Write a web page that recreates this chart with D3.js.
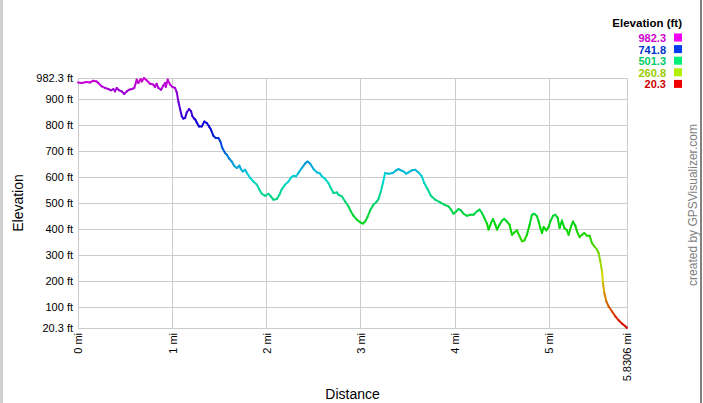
<!DOCTYPE html>
<html><head><meta charset="utf-8">
<script src="https://cdn.jsdelivr.net/npm/d3@7"></script>
<style>
body{margin:0;background:#fff;}
svg{display:block;font-family:"Liberation Sans",Arial,sans-serif;}
</style>
</head><body>
<svg id="chart" width="703" height="403"></svg>
<script>
// ---------- data ----------
const distanceMi = [
0,0.039,0.092,0.128,0.163,0.199,0.216,0.252,0.287,0.322,
0.351,0.375,0.393,0.411,0.436,0.464,0.492,0.518,0.542,0.571,
0.598,0.624,0.641,0.666,0.677,0.701,0.730,0.765,0.800,0.818,
0.836,0.853,0.882,0.906,0.925,0.932,0.953,0.978,1.002,1.031,
1.049,1.066,1.084,1.102,1.119,1.137,1.155,1.180,1.201,1.215,
1.236,1.247,1.261,1.286,1.315,1.342,1.368,1.392,1.413,1.438,
1.463,1.491,1.512,1.533,1.562,
1.580,1.608,1.633,1.658,1.687,1.714,1.729,1.750,1.775,1.799,
1.828,1.863,1.899,1.927,1.952,1.987,2.022,2.048,2.075,2.112,
2.139,2.165,2.200,2.235,2.260,2.288,2.317,2.341,2.377,2.412,
2.437,2.465,2.501,2.537,2.564,2.590,2.625,2.660,2.685,2.713,
2.749,2.766,2.802,2.837,2.873,2.898,2.926,2.962,2.997,3.026,
3.050,3.074,3.103,3.138,3.174,3.191,3.217,3.238,3.262,3.298,
3.344,3.379,3.404,3.429,3.457,3.486,3.510,3.546,3.581,3.616,
3.652,3.677,3.712,3.748,3.794,3.847,3.889,3.935,3.961,3.988,
4.017,4.041,4.067,4.095,4.131,4.166,4.201,4.237,4.265,4.290,
4.315,4.343,4.360,4.386,4.407,4.432,4.450,4.477,4.503,4.527,
4.556,4.583,4.609,4.633,4.662,4.690,4.715,4.740,4.768,4.796,
4.821,4.846,4.875,4.892,4.910,4.928,4.945,4.973,4.998,5.016,
5.045,5.069,5.094,5.115,5.140,5.165,5.193,5.210,5.236,5.257,
5.282,5.300,5.327,5.353,5.377,5.406,5.434,5.459,5.484,5.512,
5.529,5.547,5.565,5.576,5.590,5.611,5.636,5.672,5.707,5.742,
5.778,5.813,5.8306
];
const elevationFt = [
965,963,967,965,972,969,963,950,944,940,
935,940,931,944,935,931,921,931,937,940,
944,976,963,978,969,982.3,973,960,957,948,
960,944,937,953,963,948,976,957,948,944,
927,892,863,835,826,828,850,863,854,835,
825,822,811,796,796,815,809,796,783,760,
751,751,738,713,694,
687,671,661,645,636,645,632,623,629,614,
598,584,572,552,537,529,537,527,514,517,
533,555,572,584,598,606,604,617,636,653,
661,653,632,619,617,604,594,578,559,540,
542,533,527,507,488,469,452,437,427,422,
430,447,473,495,507,517,546,578,617,614,
617,627,632,627,623,614,619,627,629,619,
604,578,555,529,514,504,495,488,476,460,
469,478,473,460,452,456,456,469,476,463,
444,422,399,424,440,418,399,418,434,440,
430,418,379,388,396,373,354,357,379,418,
456,460,450,430,405,386,409,396,409,430,
452,456,444,405,434,405,396,379,411,430,
414,392,370,379,386,375,375,347,334,322,
309,277,238,193,155,123,103,84,65,50,
37,27,20.3
];
const yTickValues = [20.3,100,200,300,400,500,600,700,800,900,982.3];
const xTickValues = [0,1,2,3,4,5,5.8306];
const legendValues = [982.3,741.8,501.3,260.8,20.3];
const legendTitle = "Elevation (ft)";
const xTitle = "Distance";
const yTitle = "Elevation";
const credit = "created by GPSVisualizer.com";

// ---------- drawing ----------
const svg = d3.select("#chart");
const W = 703, H = 403;
const plot = {left:78, right:627, top:78, bottom:328};

const minE = d3.min(legendValues), maxE = d3.max(legendValues);
const x = d3.scaleLinear().domain([0, d3.max(xTickValues)]).range([plot.left, plot.right]);
const y = d3.scaleLinear().domain([minE, maxE]).range([plot.bottom, plot.top]);
const hue = d3.scaleLinear().domain([minE, maxE]).range([0, 300]);
const lineColor = v => d3.hsl(hue(v), 1, 0.42).formatHex();
const swatchColor = v => d3.hsl(hue(v), 1, 0.47).formatHex();
const textColor = v => d3.hsl(hue(v), 1, 0.40).formatHex();

svg.append("rect").attr("width", W).attr("height", H).attr("fill", "#fff");
// outer frame
svg.append("rect").attr("x",0).attr("y",0).attr("width",3).attr("height",H).attr("fill","#d0d0d0");
svg.append("rect").attr("x",700).attr("y",0).attr("width",2).attr("height",H).attr("fill","#808080");

const crisp = v => Math.round(v) + 0.5;
// grid
const grid = svg.append("g").attr("stroke", "#cccccc").attr("stroke-width", 1);
grid.selectAll(".gx").data(xTickValues).join("line")
  .attr("x1", d => crisp(x(d))).attr("x2", d => crisp(x(d)))
  .attr("y1", plot.top).attr("y2", plot.bottom);
grid.selectAll(".gy").data(yTickValues).join("line")
  .attr("x1", plot.left).attr("x2", plot.right)
  .attr("y1", d => crisp(y(d))).attr("y2", d => crisp(y(d)));

// axes
const yAxis = d3.axisLeft(y).tickValues(yTickValues).tickSize(0).tickPadding(5)
  .tickFormat(d => d + " ft");
const gy = svg.append("g").attr("transform", `translate(${plot.left},0)`).call(yAxis);
gy.select(".domain").remove();
gy.selectAll("text").attr("font-size", 11).attr("fill", "#000")
  .attr("font-family", '"Liberation Sans",Arial,sans-serif');

const xAxis = d3.axisBottom(x).tickValues(xTickValues).tickSize(0)
  .tickFormat(d => d + " mi");
const gx = svg.append("g").attr("transform", `translate(0,${plot.bottom})`).call(xAxis);
gx.select(".domain").remove();
gx.selectAll("text").attr("font-size", 11).attr("fill", "#000")
  .attr("font-family", '"Liberation Sans",Arial,sans-serif')
  .attr("transform", "rotate(-90)").attr("text-anchor", "end")
  .attr("x", -5).attr("y", 0).attr("dy", "0.35em");

// profile line, coloured by elevation
const pts = distanceMi.map((d, i) => ({d, e: elevationFt[i]}));
svg.append("g").attr("fill", "none").attr("stroke-width", 2).attr("stroke-linecap", "round")
  .selectAll("line").data(d3.pairs(pts)).join("line")
  .attr("x1", p => x(p[0].d)).attr("y1", p => y(p[0].e))
  .attr("x2", p => x(p[1].d)).attr("y2", p => y(p[1].e))
  .attr("stroke", p => lineColor((p[0].e + p[1].e) / 2));

// titles
svg.append("text").attr("x", (plot.left + plot.right) / 2).attr("y", 399)
  .attr("text-anchor", "middle").attr("font-size", 14).text(xTitle);
svg.append("text").attr("transform", `translate(23,${(plot.top + plot.bottom) / 2}) rotate(-90)`)
  .attr("text-anchor", "middle").attr("font-size", 14).text(yTitle);

// credit
svg.append("text").attr("transform", `translate(697,${(plot.top + plot.bottom) / 2 + 2}) rotate(-90)`)
  .attr("text-anchor", "middle").attr("font-size", 12).attr("fill", "#808080").text(credit);

// legend
const lg = svg.append("g");
lg.append("text").attr("x", 682).attr("y", 27).attr("text-anchor", "end")
  .attr("font-size", 11.5).attr("font-weight", "bold").text(legendTitle);
const rows = lg.selectAll(".row").data(legendValues).join("g")
  .attr("transform", (d, i) => `translate(0,${42 + i * 11.6})`);
rows.append("text").attr("x", 666).attr("y", 0).attr("text-anchor", "end")
  .attr("font-size", 11).attr("font-weight", "bold").attr("fill", d => textColor(d)).text(d => d);
rows.append("rect").attr("x", 674).attr("y", -8.5).attr("width", 8).attr("height", 8)
  .attr("fill", d => swatchColor(d));
</script>
</body></html>
